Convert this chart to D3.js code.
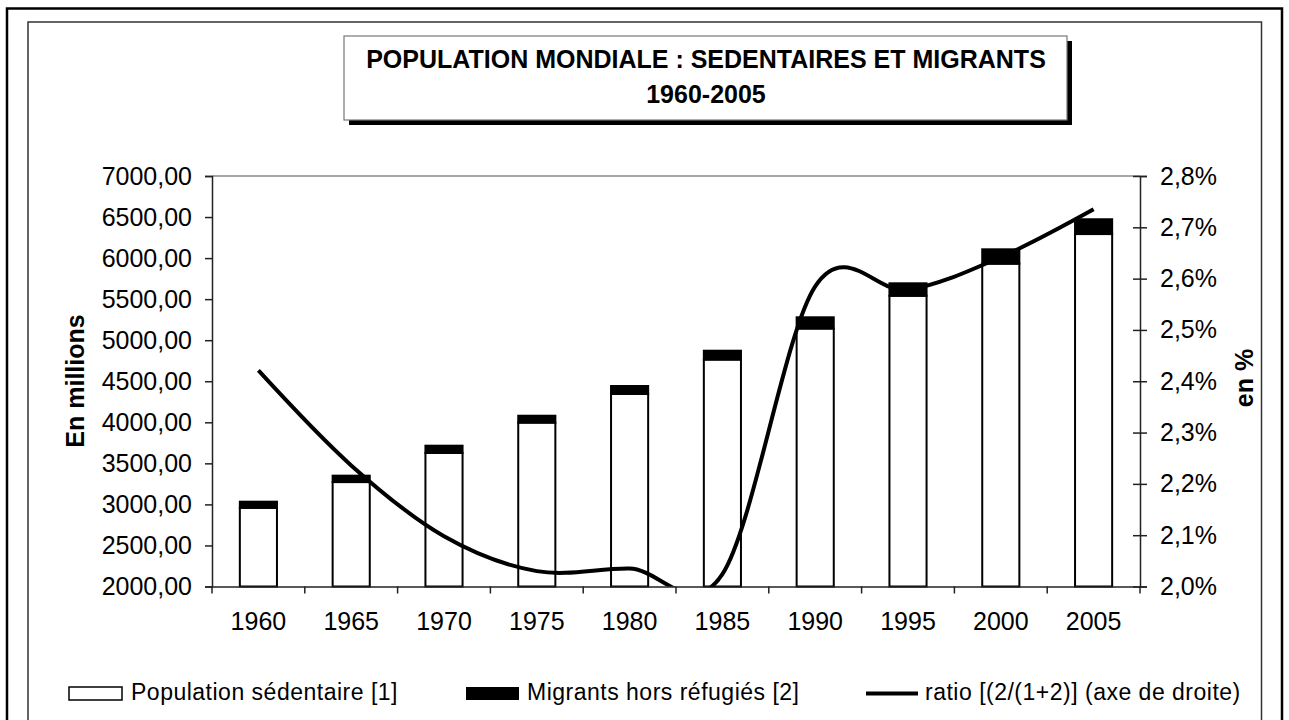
<!DOCTYPE html>
<html>
<head>
<meta charset="utf-8">
<script src="https://cdn.jsdelivr.net/npm/d3@7"></script>
<style>
  body { margin: 0; background: #fff; }
  svg { display: block; font-family: "Liberation Sans", Arial, sans-serif; }
</style>
</head>
<body>
<svg id="chart" width="1289" height="720"></svg>
<script>
// data
var years = ["1960", "1965", "1970", "1975", "1980", "1985", "1990", "1995", "2000", "2005"];
var sedentaires = [2958, 3272, 3627, 3996, 4346, 4764, 5142, 5541, 5932, 6293];
var migrants = [75, 78, 88, 84, 96, 108, 137, 152, 175, 180];
var ratio = [2.421, 2.236, 2.098, 2.030, 2.035, 2.024, 2.585, 2.578, 2.642, 2.735]; // en %
var leftTicks = [2000, 2500, 3000, 3500, 4000, 4500, 5000, 5500, 6000, 6500, 7000];
var rightTicks = [2.0, 2.1, 2.2, 2.3, 2.4, 2.5, 2.6, 2.7, 2.8];

var fr = d3.formatLocale({decimal: ",", thousands: "", grouping: [3], currency: ["", " €"]});
var fmtLeft = fr.format(".2f");
var fmtRight = function (d) { return fr.format(".1f")(d) + "%"; };

var plot = {left: 212, right: 1140, top: 176, bottom: 586.5};

var svg = d3.select("#chart");

// outer frames
svg.append("rect").attr("x", 7).attr("y", 8.5).attr("width", 1275).attr("height", 740)
  .attr("fill", "none").attr("stroke", "#000").attr("stroke-width", 2.5);
svg.append("rect").attr("x", 28).attr("y", 22).attr("width", 1233.5).attr("height", 740)
  .attr("fill", "none").attr("stroke", "#333").attr("stroke-width", 1.5);

// title box with shadow
svg.append("rect").attr("x", 349).attr("y", 41).attr("width", 723).attr("height", 84).attr("fill", "#000");
svg.append("rect").attr("x", 344).attr("y", 36).attr("width", 723).attr("height", 84)
  .attr("fill", "#fff").attr("stroke", "#777").attr("stroke-width", 1.2);
var title = svg.append("text").attr("text-anchor", "middle")
  .attr("font-weight", "bold").attr("font-size", 25);
title.append("tspan").attr("x", 706).attr("y", 68).text("POPULATION MONDIALE : SEDENTAIRES ET MIGRANTS");
title.append("tspan").attr("x", 706).attr("y", 102.5).text("1960-2005");

// scales
var x = d3.scaleBand().domain(years).range([plot.left, plot.right]).paddingInner(0.6).paddingOuter(0.3);
var y = d3.scaleLinear().domain([2000, 7000]).range([plot.bottom, plot.top]);
var y2 = d3.scaleLinear().domain([2.0, 2.8]).range([plot.bottom, plot.top]);

// plot top border
svg.append("line").attr("x1", plot.left).attr("x2", plot.right)
  .attr("y1", plot.top).attr("y2", plot.top).attr("stroke", "#888").attr("stroke-width", 1.5);

// bars
var bars = svg.append("g");
years.forEach(function (yr, i) {
  bars.append("rect")
    .attr("x", x(yr)).attr("width", x.bandwidth())
    .attr("y", y(sedentaires[i])).attr("height", y(2000) - y(sedentaires[i]))
    .attr("fill", "#fff").attr("stroke", "#000").attr("stroke-width", 2);
  bars.append("rect")
    .attr("x", x(yr)).attr("width", x.bandwidth())
    .attr("y", y(sedentaires[i] + migrants[i])).attr("height", y(sedentaires[i]) - y(sedentaires[i] + migrants[i]))
    .attr("fill", "#000").attr("stroke", "#000").attr("stroke-width", 2);
});

// left axis
var gl = svg.append("g").attr("transform", "translate(" + plot.left + ",0)")
  .call(d3.axisLeft(y).tickValues(leftTicks).tickFormat(fmtLeft).tickSize(7).tickPadding(13));
gl.selectAll("text").attr("font-size", 25).attr("font-family", null).attr("fill", "#000");
gl.selectAll("line, path").attr("stroke", "#222").attr("stroke-width", 1.5);

// right axis (ticks cross the line)
var gr = svg.append("g").attr("transform", "translate(" + plot.right + ",0)")
  .call(d3.axisRight(y2).tickValues(rightTicks).tickFormat(fmtRight).tickSize(7).tickPadding(13));
gr.selectAll(".tick line").attr("x1", -7);
gr.selectAll("text").attr("font-size", 25).attr("font-family", null).attr("fill", "#000");
gr.selectAll("line, path").attr("stroke", "#222").attr("stroke-width", 1.5);

// bottom axis: labels at centres, ticks at category boundaries
var gb = svg.append("g").attr("transform", "translate(0," + plot.bottom + ")")
  .call(d3.axisBottom(x).tickSize(0).tickPadding(26));
gb.selectAll("text").attr("font-size", 25).attr("font-family", null).attr("fill", "#000");
gb.select(".domain").attr("stroke", "#222").attr("stroke-width", 1.5);
var bounds = years.map(function (yr) { return x(yr) - x.step() * x.paddingOuter(); }).concat([plot.right]);
gb.selectAll(".bound").data(bounds).enter().append("line")
  .attr("x1", function (d) { return d; }).attr("x2", function (d) { return d; })
  .attr("y1", 0).attr("y2", 7).attr("stroke", "#222").attr("stroke-width", 1.5);

// ratio line, smoothed, clipped to plot area
svg.append("clipPath").attr("id", "clip").append("rect")
  .attr("x", plot.left).attr("y", plot.top).attr("width", plot.right - plot.left).attr("height", plot.bottom - plot.top);
var line = d3.line()
  .x(function (d, i) { return x(years[i]) + x.bandwidth() / 2; })
  .y(function (d) { return y2(d); })
  .curve(d3.curveCardinal.tension(0));
svg.append("path").datum(ratio).attr("clip-path", "url(#clip)")
  .attr("d", line).attr("fill", "none").attr("stroke", "#000").attr("stroke-width", 4);

// axis titles
svg.append("text").attr("transform", "translate(75,381) rotate(-90)")
  .attr("text-anchor", "middle").attr("dominant-baseline", "central")
  .attr("font-weight", "bold").attr("font-size", 25).text("En millions");
svg.append("text").attr("transform", "translate(1244,378) rotate(-90)")
  .attr("text-anchor", "middle").attr("dominant-baseline", "central")
  .attr("font-weight", "bold").attr("font-size", 25).text("en %");

// legend
var lg = svg.append("g").attr("font-size", 23).attr("letter-spacing", 0.5);
lg.append("rect").attr("x", 69).attr("y", 687).attr("width", 53).attr("height", 13)
  .attr("fill", "#fff").attr("stroke", "#000").attr("stroke-width", 1.5);
lg.append("text").attr("x", 131).attr("y", 700).text("Population sédentaire [1]");
lg.append("rect").attr("x", 466).attr("y", 687).attr("width", 53).attr("height", 13).attr("fill", "#000");
lg.append("text").attr("x", 527).attr("y", 700).text("Migrants hors réfugiés [2]");
lg.append("line").attr("x1", 866).attr("x2", 918).attr("y1", 693.5).attr("y2", 693.5)
  .attr("stroke", "#000").attr("stroke-width", 4);
lg.append("text").attr("x", 925).attr("y", 700).text("ratio [(2/(1+2)] (axe de droite)");
</script>
</body>
</html>
